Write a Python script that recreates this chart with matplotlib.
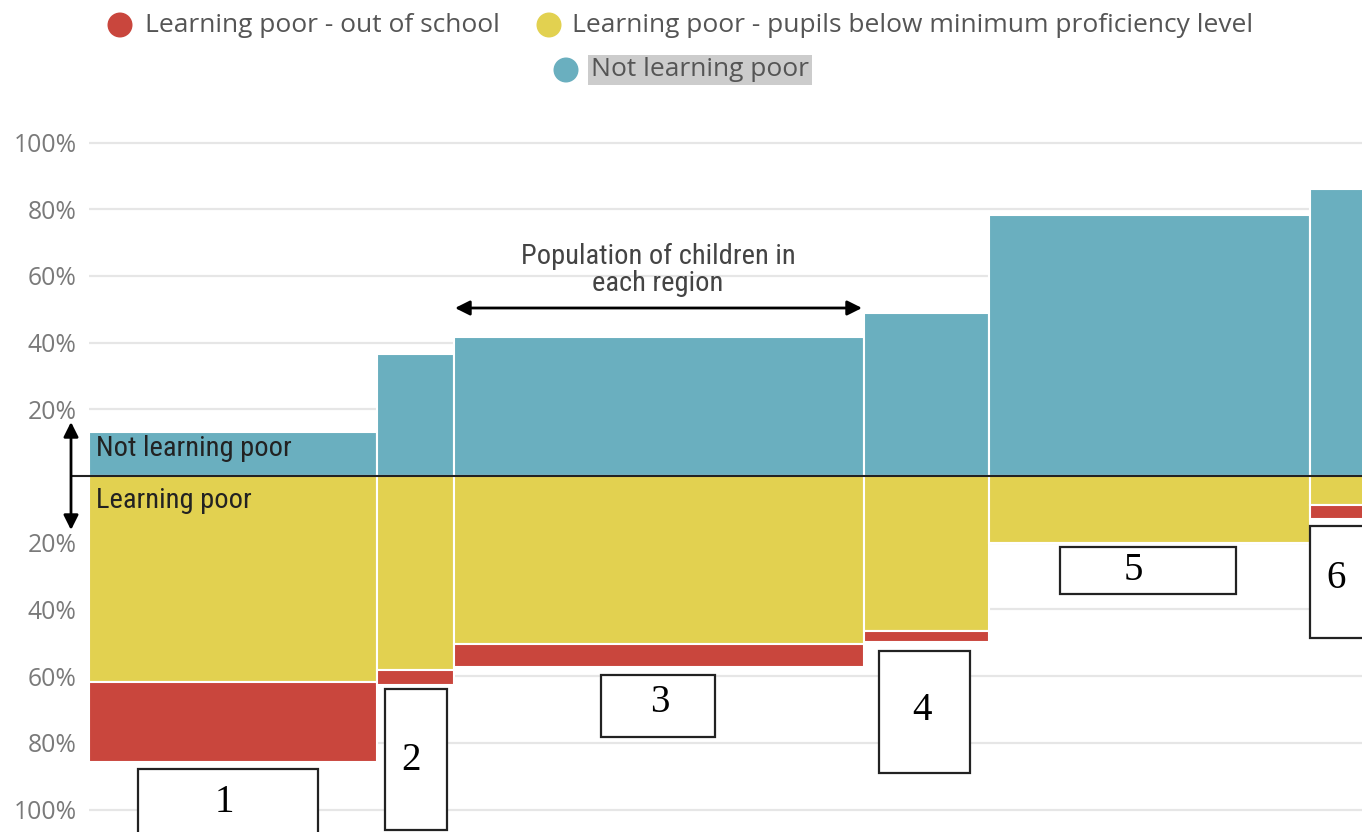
import matplotlib
matplotlib.use("Agg")
import matplotlib.pyplot as plt
from matplotlib.patches import Rectangle, Ellipse, FancyArrowPatch
from matplotlib import font_manager as fm

# ---------------- data ----------------
regions = ["1", "2", "3", "4", "5", "6"]
population = [288, 76.5, 410, 125, 321, 130]          # relative child population (bar widths)
not_learning_poor = [13.1, 36.5, 41.7, 49.0, 78.4, 86.1]  # % above zero
below_min_prof = [61.9, 58.3, 50.4, 46.6, 20.1, 8.7]      # % below zero (yellow)
out_of_school = [23.9, 4.3, 7.0, 3.3, 0.0, 4.2]           # % below yellow (red)
ytick_vals = [100, 80, 60, 40, 20, -20, -40, -60, -80, -100]
ytick_labels = ["100%", "80%", "60%", "40%", "20%", "20%", "40%", "60%", "80%", "100%"]
legend_labels = ["Learning poor - out of school",
                 "Learning poor - pupils below minimum proficiency level",
                 "Not learning poor"]

C_RED = "#c9463d"
C_YEL = "#e2d150"
C_TEAL = "#6aafbf"

entries = fm.fontManager.ttflist
names = {f.name for f in entries}
def pick(cands, default="DejaVu Sans"):
    for c in cands:
        if c in names:
            return c
    return default

SANS = pick(["Open Sans", "Noto Sans", "Lato"])
SERIF = pick(["Liberation Serif", "DejaVu Serif"])

def wnum(w):
    if isinstance(w, int):
        return w
    return {"ultralight": 200, "light": 300, "normal": 400, "regular": 400, "book": 400,
            "medium": 500}.get(str(w).lower(), 700)

# condensed, upright, regular weight font
NARROW_PROPS = None
for cand in ["Open Sans Condensed", "Liberation Sans Narrow", "Roboto Condensed", "Noto Sans Condensed"]:
    ok = [f for f in entries if f.name == cand and f.style == "normal" and wnum(f.weight) <= 400]
    if ok:
        ok.sort(key=lambda f: abs(wnum(f.weight) - 400))
        NARROW_PROPS = fm.FontProperties(fname=ok[0].fname)
        break
if NARROW_PROPS is None:
    NARROW_PROPS = fm.FontProperties(family=SANS)

W, H = 1362, 832
fig = plt.figure(figsize=(W / 100, H / 100), dpi=100)

def fx(x):
    return x / W
def fy(y):
    return 1 - y / H

# axes: px x 89..1362, y 120..832 ; zero at y=476
ax_left, ax_top, ax_bottom = 89, 120, 832
ax = fig.add_axes([fx(ax_left), fy(ax_bottom), fx(W) - fx(ax_left), fy(ax_top) - fy(ax_bottom)])
pxpp = 3.335
ax.set_ylim(-(ax_bottom - 476) / pxpp, (476 - ax_top) / pxpp)
ax.set_xlim(0, W - ax_left)

lefts = []
acc = 0
for w in population:
    lefts.append(acc)
    acc += w

ax.bar(lefts, not_learning_poor, width=population, align="edge", color=C_TEAL,
       edgecolor="white", linewidth=1.5, zorder=2)
ax.bar(lefts, [-v for v in below_min_prof], width=population, align="edge", color=C_YEL,
       edgecolor="white", linewidth=1.5, zorder=2)
ax.bar(lefts, [-v for v in out_of_school], width=population, align="edge",
       bottom=[-v for v in below_min_prof], color=C_RED, edgecolor="white", linewidth=1.5, zorder=2)

for s in ax.spines.values():
    s.set_visible(False)
ax.set_xticks([])
ax.set_yticks(ytick_vals)
ax.set_yticklabels(ytick_labels, fontsize=17.8, color="#7a7a7a", family=SANS)
ax.tick_params(axis="y", length=0, pad=9)
for v in ytick_vals:
    ax.axhline(v, color="#e6e6e6", lw=1.6, zorder=0)

# zero line (extends left of axes)
ax.plot([-17, W - ax_left], [0, 0], color="#222222", lw=1.5, zorder=3, clip_on=False)

# ---------------- legend ----------------
def legend_item(cx, cy, color, text, tx, highlight=False):
    fig.patches.append(Ellipse((fx(cx), fy(cy)), 25 / W, 25 / H, transform=fig.transFigure,
                               facecolor=color, edgecolor="none"))
    kw = {}
    if highlight:
        kw["bbox"] = dict(boxstyle="square,pad=0.1", facecolor="#cccccc", edgecolor="none")
    fig.text(fx(tx), fy(cy), text, fontsize=19, color="#555555", family=SANS,
             ha="left", va="center", **kw)

legend_item(120, 25, C_RED, legend_labels[0], 145)
legend_item(549, 25, C_YEL, legend_labels[1], 572)
legend_item(566, 70, C_TEAL, legend_labels[2], 591, highlight=True)

# ---------------- annotations ----------------
fig.text(fx(96), fy(449), "Not learning poor", fontsize=20.5, color="#222222",
         fontproperties=NARROW_PROPS, ha="left", va="center")
fig.text(fx(96), fy(500), "Learning poor", fontsize=20.5, color="#222222",
         fontproperties=NARROW_PROPS, ha="left", va="center")
fig.text(fx(658), fy(270), "Population of children in\neach region", fontsize=20.5,
         color="#444444", fontproperties=NARROW_PROPS, ha="center", va="center", linespacing=1.0)

def arrow(x1, y1, x2, y2):
    fig.patches.append(FancyArrowPatch((fx(x1), fy(y1)), (fx(x2), fy(y2)),
                                       transform=fig.transFigure, arrowstyle="<|-|>",
                                       mutation_scale=22, color="black", lw=2,
                                       shrinkA=0, shrinkB=0))

arrow(71, 422, 71, 530)
arrow(455, 308, 862, 308)

# ---------------- number boxes ----------------
boxes = [(138, 769, 318, 840), (385, 689, 447, 830), (601, 675, 715, 737),
         (879, 651, 970, 773), (1060, 547, 1236, 594), (1310, 526, 1375, 638)]
label_pos = [(224, 802), (411, 760), (660, 703), (922, 711), (1133, 570), (1336, 578)]
for (x0, y0, x1, y1), lab, (lx, ly) in zip(boxes, regions, label_pos):
    fig.patches.append(Rectangle((fx(x0), fy(y1)), fx(x1) - fx(x0), fy(y0) - fy(y1),
                                 transform=fig.transFigure, facecolor="white",
                                 edgecolor="#222222", lw=1.6, zorder=5))
    fig.text(fx(lx), fy(ly), lab, fontsize=28, family=SERIF, color="black",
             ha="center", va="center", zorder=6)

fig.savefig("out.png", dpi=100)
